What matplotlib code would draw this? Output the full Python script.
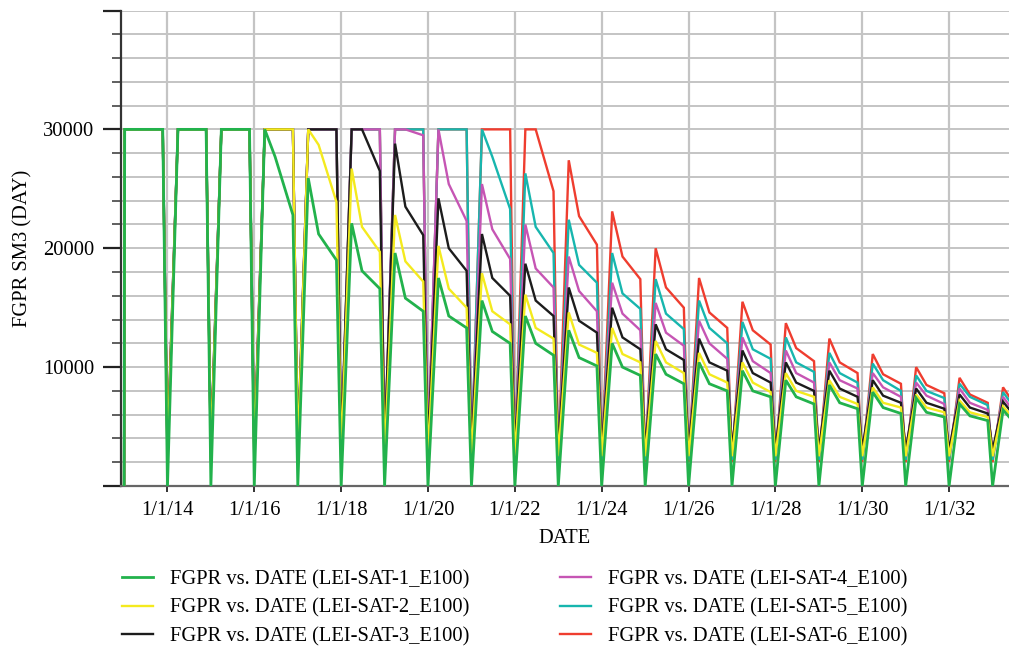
import matplotlib
matplotlib.use("Agg")
import matplotlib.pyplot as plt
from matplotlib.ticker import FixedLocator, MultipleLocator, FixedFormatter
from datetime import datetime, timedelta

plt.rcParams["font.family"] = ["Liberation Serif", "DejaVu Serif"]

# ---- data -------------------------------------------------------------
# one production cycle per calendar year: shut-in on Jan 1, ramp to peak,
# sharp decline to a knee, slow decline to the end of the season
cycle_years = list(range(2013, 2034))

sat1_peak = [30000, 30000, 30000, 30000, 25900, 22100, 19600, 17500, 15600, 14300, 13100,
             12000, 11100, 10400, 9700, 8900, 8500, 7900, 7400, 6900, 6400]
sat1_knee = [30000, 30000, 30000, 27700, 21200, 18100, 15800, 14300, 13000, 12000, 10800,
             10000, 9400, 8600, 8000, 7500, 7000, 6600, 6200, 5900, 5400]
sat1_end = [30000, 30000, 30000, 22800, 19000, 16600, 14700, 13300, 12000, 11000, 10100,
            9300, 8600, 8000, 7500, 6900, 6500, 6100, 5800, 5500]

sat2_peak = [30000, 30000, 30000, 30000, 30000, 26700, 22800, 20200, 17900, 16100, 14600,
             13300, 12200, 11200, 10400, 9500, 8900, 8300, 7700, 7200, 6700]
sat2_knee = [30000, 30000, 30000, 30000, 28700, 21800, 18900, 16600, 14700, 13300, 11900,
             11100, 10400, 9400, 8700, 8000, 7500, 7000, 6600, 6200, 5700]
sat2_end = [30000, 30000, 30000, 30000, 23900, 19700, 17200, 15000, 13600, 12400, 11200,
            10400, 9500, 8700, 7900, 7500, 6900, 6600, 6200, 5800]

sat3_peak = [30000, 30000, 30000, 30000, 30000, 30000, 28800, 24200, 21200, 18700, 16700,
             15000, 13600, 12400, 11400, 10400, 9700, 8900, 8200, 7700, 7100]
sat3_knee = [30000, 30000, 30000, 30000, 30000, 30000, 23500, 20000, 17500, 15600, 13900,
             12500, 11500, 10400, 9500, 8700, 8200, 7600, 7000, 6600, 6000]
sat3_end = [30000, 30000, 30000, 30000, 30000, 26500, 21100, 18100, 16000, 14300, 12900,
            11500, 10600, 9700, 8700, 8000, 7500, 7000, 6500, 6100]

sat4_peak = [30000, 30000, 30000, 30000, 30000, 30000, 30000, 30000, 25400, 22000, 19300,
             17100, 15400, 13900, 12500, 11400, 10400, 9500, 8700, 8200, 7500]
sat4_knee = [30000, 30000, 30000, 30000, 30000, 30000, 30000, 25400, 21600, 18300, 16400,
             14500, 12900, 12000, 10500, 9500, 8900, 8300, 7600, 7000, 6300]
sat4_end = [30000, 30000, 30000, 30000, 30000, 30000, 29500, 22300, 19100, 16700, 14700,
            13100, 11800, 10700, 9500, 8700, 8200, 7500, 6900, 6400]

sat5_peak = [30000, 30000, 30000, 30000, 30000, 30000, 30000, 30000, 30000, 26300, 22400,
             19600, 17400, 15600, 13800, 12500, 11200, 10300, 9300, 8600, 7900]
sat5_knee = [30000, 30000, 30000, 30000, 30000, 30000, 30000, 30000, 27700, 21800, 18600,
             16200, 14500, 13300, 11500, 10400, 9500, 8900, 8000, 7500, 6700]
sat5_end = [30000, 30000, 30000, 30000, 30000, 30000, 30000, 30000, 23300, 19600, 17100,
            14900, 13200, 12000, 10700, 9600, 8700, 8000, 7400, 6800]

sat6_peak = [30000, 30000, 30000, 30000, 30000, 30000, 30000, 30000, 30000, 30000, 27400,
             23100, 20000, 17500, 15500, 13700, 12400, 11100, 10000, 9100, 8300]
sat6_knee = [30000, 30000, 30000, 30000, 30000, 30000, 30000, 30000, 30000, 30000, 22700,
             19300, 16700, 14600, 13100, 11600, 10400, 9400, 8500, 7700, 7000]
sat6_end = [30000, 30000, 30000, 30000, 30000, 30000, 30000, 30000, 30000, 24800, 20300,
            17400, 15000, 13300, 11900, 10500, 9500, 8600, 7800, 7000]

# lowest rate reached at each annual shut-in
shut_in_rate = [0, 2500, 3000, 2800, 2200, 2000]

labels = [f"FGPR vs. DATE (LEI-SAT-{i}_E100)" for i in range(1, 7)]
colors = ["#22b24c", "#f4ea1e", "#1c1c1c", "#c655b4", "#17b6ae", "#ef3d2f"]
widths = [2.0, 1.7, 1.7, 1.7, 1.7, 1.7]

tick_years = list(range(2014, 2033, 2))

# day-of-year of each phase within a cycle
FIRST_PEAK_DAY = 5
PEAK_DAY = 88
KNEE_DAY = 175
END_DAY = 325


def build_series(peaks, knees, ends, dip):
    dates, rates = [], []
    for i, yr in enumerate(cycle_years):
        jan1 = datetime(yr, 1, 1)
        dates.append(jan1)
        rates.append(0 if i == 0 else dip)
        dates.append(jan1 + timedelta(days=FIRST_PEAK_DAY if i == 0 else PEAK_DAY))
        rates.append(peaks[i])
        dates.append(jan1 + timedelta(days=KNEE_DAY))
        rates.append(knees[i])
        if i < len(ends):
            dates.append(jan1 + timedelta(days=END_DAY))
            rates.append(ends[i])
    return dates, rates


series = [
    (sat1_peak, sat1_knee, sat1_end),
    (sat2_peak, sat2_knee, sat2_end),
    (sat3_peak, sat3_knee, sat3_end),
    (sat4_peak, sat4_knee, sat4_end),
    (sat5_peak, sat5_knee, sat5_end),
    (sat6_peak, sat6_knee, sat6_end),
]

# ---- figure -----------------------------------------------------------
fig = plt.figure(figsize=(10.09, 6.48), dpi=100)
ax = fig.add_axes([121 / 1009, 1 - 486 / 648, 1 - 121 / 1009, (486 - 10.5) / 648])

handles = [None] * 6
for idx in range(5, -1, -1):  # case 1 drawn last, on top
    p, k, e = series[idx]
    d, r = build_series(p, k, e, shut_in_rate[idx])
    (ln,) = ax.plot(d, r, color=colors[idx], lw=widths[idx], solid_joinstyle="miter",
                    label=labels[idx], zorder=3 + (5 - idx) * 0.1)
    handles[idx] = ln

ax.set_xlim(datetime(2012, 12, 6), datetime(2033, 5, 19))
ax.set_ylim(0, 40000)

# y axis ticks and grid
ax.yaxis.set_major_locator(FixedLocator([0, 10000, 20000, 30000, 40000]))
ax.yaxis.set_major_formatter(FixedFormatter(["", "10000", "20000", "30000", ""]))
ax.yaxis.set_minor_locator(MultipleLocator(2000))
ax.tick_params(axis="y", which="major", length=13, width=1.6, color="#222222",
               labelsize=14.8, pad=6)
ax.tick_params(axis="y", which="minor", length=6.5, width=1.2, color="#444444")

# x axis ticks and grid
xt = [datetime(y, 1, 1) for y in tick_years]
ax.set_xticks(xt)
ax.set_xticklabels([f"1/1/{y % 100:02d}" for y in tick_years])
ax.tick_params(axis="x", which="major", length=4, width=1.4, color="#333333",
               labelsize=14.8, pad=7)

ax.grid(True, which="both", axis="y", color="#c4c4c4", lw=1.4, zorder=0)
ax.grid(True, which="major", axis="x", color="#c4c4c4", lw=1.6, zorder=0)
ax.set_axisbelow(True)

for s in ("top", "right"):
    ax.spines[s].set_visible(False)
ax.spines["left"].set_color("#333333")
ax.spines["left"].set_linewidth(1.6)
ax.spines["bottom"].set_color("#666666")
ax.spines["bottom"].set_linewidth(1.6)

ax.set_xlabel("DATE", fontsize=14.8, labelpad=6)
ax.set_ylabel("FGPR SM3 (DAY)", fontsize=14.8, labelpad=8)

fig.legend(handles=handles, labels=labels, loc="upper left",
           bbox_to_anchor=(122 / 1009, 1 - 570 / 648), ncol=2, frameon=False,
           fontsize=14.8, handlelength=1.5, handletextpad=0.85, columnspacing=4.4,
           labelspacing=0.44, borderpad=0, borderaxespad=0)

fig.savefig("out.png", dpi=100)
